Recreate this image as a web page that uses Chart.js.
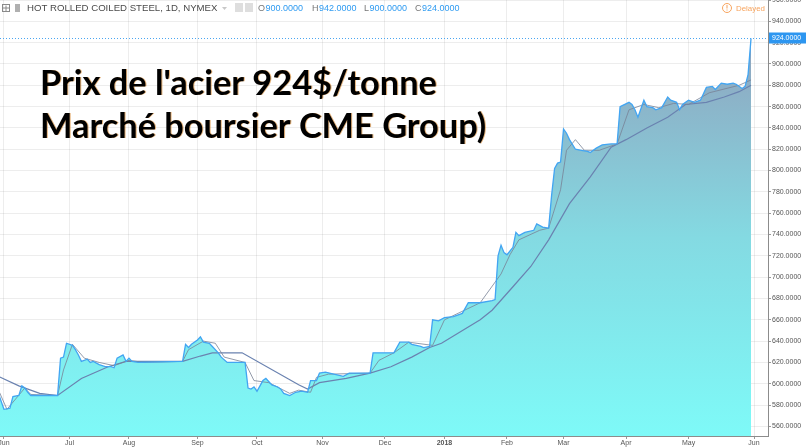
<!DOCTYPE html>
<html>
<head>
<meta charset="utf-8">
<title>Hot Rolled Coiled Steel</title>
<script src="https://cdn.jsdelivr.net/npm/chart.js@4.4.1/dist/chart.umd.min.js"></script>
<style>
    html, body { margin: 0; padding: 0; background: #fff; }
    #wrap { width: 806px; height: 447px; }
</style>
</head>
<body>
<div id="wrap"><canvas id="steel-chart" width="806" height="447"></canvas></div>
<script>
// x = trading day counted from 1 Jun 2017
var priceDays = [-2,0,2,3,5,6,7,8,9,18, 19,20,21,23,24,25,26,28,29,30,
    32,34,36,37,38,40,41,42,43,45, 60,61,62,63,65,66,67,69,70,72,
    73,75,81,82,83,84,85,87,88,90, 92,93,94,96,98,100,102,103,105,106,
    108,114,116,123,124,131,133,136,137,140, 141,143,144,146,148,151,154,156,160,164,
    165,166,167,168,169,171,172,173,175,178, 179,181,183,184,185,186,187,188,189,190,
    192,194,196,197,199,201,204,206,207,210, 211,212,213,215,216,218,219,221,223,224,
    226,227,228,229,230,232,234,236,238,239, 241,243,245,246,248,249,250,251];
var priceValues = [592,576,577,588,589,598,596,592,589,589, 624,625,638,636,632,627,621,623,620,621,
    618,616,616,615,624,627,621,624,621,620, 621,637,634,637,641,644,639,638,635,629,
    625,620,620,596,595,597,593,603,605,599, 597,595,591,589,592,593,592,603,603,610,
    611,607,610,610,629,629,639,639,637,635, 634,635,660,659,662,663,666,676,676,678,
    679,720,730,723,721,728,742,739,742,744, 750,747,746,777,802,807,808,839,835,829,
    820,819,818,817,821,824,825,825,860,864, 862,857,850,866,860,859,857,859,869,866,
    864,857,862,864,866,864,866,878,879,876, 882,881,882,881,877,879,890,924];

// short moving average (thin grey)
var fastDays = [-2,1,7,9,18,20,23,27,32,37, 42,47,60,62,67,71,74,81,84,89,
    96,99,103,105,109,123,126,131,136,144, 148,160,167,170,173,180,183,187,189,192,
    195,200,206,210,215,220,225,230,237,247, 251];
var fastValues = [595,576,596,590,589,613,637,624,620,617, 622,620,621,632,640,638,625,620,603,601,
    591,594,592,606,609,610,622,629,639,636, 660,676,703,721,735,744,746,782,819,829,
    819,819,825,857,862,859,863,862,873,880, 885];

// long moving average (slate)
var slowDays = [-2,5,12,18,26,35,41,60,66,70, 80,99,102,106,115,123,130,137,143,147,
    160,164,171,177,183,190,197,204,209,216, 223,229,236,242,247,251];
var slowValues = [607,598,591,589,605,616,621,621,626,629, 629,599,595,601,605,610,616,625,634,638,
    660,669,691,710,735,769,794,822,829,840, 850,862,864,869,874,880];

var monthTickDays = [0,22,42,65,85,107,128,148,169,188,209,230,252];
var monthLabels = ['Jun','Jul','Aug','Sep','Oct','Nov','Dec','2018','Feb','Mar','Apr','May','Jun'];
var priceTicks = [560,580,600,620,640,660,680,700,720,740,760,780,800,820,840,860,880,900,920,940,960];

var symbolName = 'HOT ROLLED COILED STEEL, 1D, NYMEX';
var ohlcLetters = ['O','H','L','C'];
var ohlcValues = [900,942,900,924];
var ohlcX = [258, 312, 364, 415];
var titleLines = ["Prix de l'acier 924$/tonne", 'Marché boursier CME Group)'];

var tickFont = '"Liberation Sans", Arial, sans-serif';

function toPoints(days, values) {
    return days.map(function(d, i) {
        return { x: d, y: values[i] };
    });
}

function areaGradient(context) {
    var chart = context.chart;
    var area = chart.chartArea;
    if (!area) {
        return 'rgba(128,248,246,0.9)';
    }
    var g = chart.ctx.createLinearGradient(0, area.bottom, 0, area.top + 40);
    g.addColorStop(0, 'rgb(126,250,248)');
    g.addColorStop(0.5, 'rgb(132,218,226)');
    g.addColorStop(1, 'rgb(143,163,190)');
    return g;
}

// fit a string into a given pixel width
function fitFont(ctx, text, width, weight, family) {
    ctx.font = weight + ' 20px ' + family;
    var size = 20 * width / ctx.measureText(text).width;
    ctx.font = weight + ' ' + size.toFixed(2) + 'px ' + family;
}

function drawLastPrice(chart) {
    var ctx = chart.ctx;
    var area = chart.chartArea;
    var last = priceValues[priceValues.length - 1];
    var y = Math.round(chart.scales.y.getPixelForValue(last)) + 0.5;
    ctx.save();
    ctx.strokeStyle = '#4aa6f2';
    ctx.lineWidth = 1;
    ctx.setLineDash([1, 2]);
    ctx.beginPath();
    ctx.moveTo(area.left, y);
    ctx.lineTo(area.right, y);
    ctx.stroke();
    ctx.setLineDash([]);
    ctx.fillStyle = '#2d96f0';
    ctx.fillRect(area.right + 1, y - 6, 806 - area.right - 1, 11);
    ctx.fillStyle = '#fff';
    ctx.font = '7px ' + tickFont;
    ctx.textBaseline = 'middle';
    ctx.fillText(last.toFixed(4), area.right + 4, y);
    ctx.restore();
}

function drawHeader(ctx) {
    ctx.save();
    // small icons
    ctx.strokeStyle = '#8a8a8a';
    ctx.lineWidth = 1;
    ctx.strokeRect(2.5, 4.5, 7, 7);
    ctx.beginPath();
    ctx.moveTo(6, 5.5); ctx.lineTo(6, 11);
    ctx.moveTo(3, 8); ctx.lineTo(9, 8);
    ctx.stroke();
    ctx.fillStyle = '#b0b0b0';
    ctx.fillRect(15, 4, 5, 8);
    ctx.fillStyle = '#c8c8c8';
    ctx.beginPath();
    ctx.moveTo(222, 7); ctx.lineTo(227, 7); ctx.lineTo(224.5, 10);
    ctx.fill();
    ctx.fillStyle = '#dedede';
    ctx.fillRect(235, 3, 8, 9);
    ctx.fillRect(245, 3, 8, 9);

    ctx.textBaseline = 'middle';
    ctx.fillStyle = '#4a4a4a';
    fitFont(ctx, symbolName, 191, 'normal', tickFont);
    ctx.fillText(symbolName, 27, 8.5);

    ctx.font = '9px ' + tickFont;
    ohlcLetters.forEach(function(letter, i) {
        ctx.fillStyle = '#777';
        ctx.fillText(letter, ohlcX[i], 8.5);
        ctx.fillStyle = '#2f9bf1';
        ctx.fillText(ohlcValues[i].toFixed(4), ohlcX[i] + ctx.measureText(letter).width + 0.5, 8.5);
    });

    // delayed badge
    ctx.strokeStyle = '#f7a45e';
    ctx.lineWidth = 1;
    ctx.beginPath();
    ctx.arc(727, 8, 4.5, 0, Math.PI * 2);
    ctx.stroke();
    ctx.fillStyle = '#f7a45e';
    ctx.fillRect(726.5, 5, 1, 3.5);
    ctx.fillRect(726.5, 9.5, 1, 1);
    fitFont(ctx, 'Delayed', 29, 'normal', tickFont);
    ctx.fillText('Delayed', 736, 8.5);
    ctx.restore();
}

function drawTitle(ctx) {
    ctx.save();
    fitFont(ctx, titleLines[0], 397, 'bold', 'Lato, "Open Sans", sans-serif');
    ctx.textBaseline = 'alphabetic';
    ctx.fillStyle = '#000';
    ctx.shadowColor = 'rgba(210,120,20,0.55)';
    ctx.shadowOffsetX = 1;
    ctx.shadowOffsetY = 0;
    ctx.shadowBlur = 0;
    ctx.fillText(titleLines[0], 40, 95);
    ctx.fillText(titleLines[1], 40, 138);
    ctx.restore();
}

var overlayPlugin = {
    id: 'overlay',
    afterDraw: function(chart) {
        drawLastPrice(chart);
        drawHeader(chart.ctx);
        drawTitle(chart.ctx);
    }
};

var ctx = document.getElementById('steel-chart').getContext('2d');
new Chart(ctx, {
    type: 'line',
    data: {
        datasets: [{
            label: 'Close',
            data: toPoints(priceDays, priceValues),
            borderColor: '#42a5f2',
            borderWidth: 1.3,
            backgroundColor: areaGradient,
            fill: 'start',
            pointRadius: 0,
            tension: 0
        }, {
            label: 'MA fast',
            data: toPoints(fastDays, fastValues),
            borderColor: 'rgba(120,130,150,0.8)',
            borderWidth: 1,
            fill: false,
            pointRadius: 0,
            tension: 0
        }, {
            label: 'MA slow',
            data: toPoints(slowDays, slowValues),
            borderColor: '#6a82b0',
            borderWidth: 1.2,
            fill: false,
            pointRadius: 0,
            tension: 0
        }]
    },
    options: {
        responsive: false,
        animation: false,
        layout: { padding: 0 },
        plugins: {
            legend: { display: false },
            tooltip: { enabled: false },
            filler: { drawTime: 'beforeDatasetsDraw' }
        },
        scales: {
            x: {
                type: 'linear',
                min: -1.34,
                max: 256.7,
                afterBuildTicks: function(scale) {
                    scale.ticks = monthTickDays.map(function(d) { return { value: d }; });
                },
                afterFit: function(scale) {
                    scale.height = 11;
                    scale.paddingLeft = 0;
                    scale.paddingRight = 0;
                },
                ticks: {
                    autoSkip: false,
                    maxRotation: 0,
                    padding: 0,
                    color: '#555',
                    font: function(c) {
                        var bold = c.tick && c.tick.value === 148;
                        return { family: tickFont, size: 7, weight: bold ? 'bold' : 'normal' };
                    },
                    callback: function(value, index) {
                        return monthLabels[index];
                    }
                },
                grid: { color: 'rgba(0,0,0,0.07)', tickLength: 3, tickColor: '#999' },
                border: { color: '#8c8c8c' }
            },
            y: {
                position: 'right',
                min: 551,
                max: 960,
                afterBuildTicks: function(scale) {
                    scale.ticks = priceTicks.map(function(v) { return { value: v }; });
                },
                afterFit: function(scale) {
                    scale.width = 38;
                    scale.paddingTop = 0;
                    scale.paddingBottom = 0;
                },
                ticks: {
                    padding: 1,
                    color: '#555',
                    font: { family: tickFont, size: 7 },
                    callback: function(value) {
                        return value.toFixed(4);
                    }
                },
                grid: { color: 'rgba(0,0,0,0.07)', tickLength: 3, tickColor: '#999' },
                border: { color: '#8c8c8c' }
            }
        }
    },
    plugins: [overlayPlugin]
});
</script>
</body>
</html>
